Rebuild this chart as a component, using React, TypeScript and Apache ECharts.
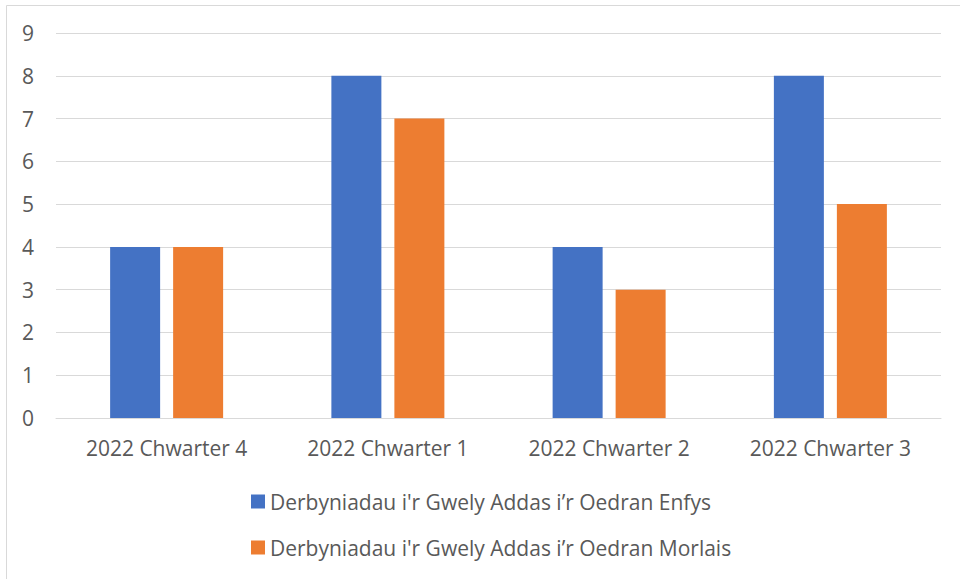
import React, { useEffect, useRef } from "react";
import * as echarts from "echarts";

const categories = ["2022 Chwarter 4", "2022 Chwarter 1", "2022 Chwarter 2", "2022 Chwarter 3"];
const seriesNames = [
  "Derbyniadau i'r Gwely Addas i\u2019r Oedran Enfys",
  "Derbyniadau i'r Gwely Addas i\u2019r Oedran Morlais",
];
const enfysValues = [4, 8, 4, 8];
const morlaisValues = [4, 7, 3, 5];
const colors = ["#4472C4", "#ED7D31"];

const FONT = "'Open Sans', 'Noto Sans', sans-serif";
const TEXT = "#595959";

export default function App() {
  const ref = useRef<HTMLDivElement>(null);
  useEffect(() => {
    if (!ref.current) return;
    const chart = echarts.init(ref.current, undefined, { renderer: "svg" });
    chart.setOption({
      animation: false,
      backgroundColor: "#ffffff",
      textStyle: { fontFamily: FONT },
      grid: { left: 56, right: 19, top: 33, bottom: 161, containLabel: false },
      xAxis: {
        type: "category",
        data: categories,
        axisLine: { show: true, lineStyle: { color: "#d9d9d9", width: 1 } },
        axisTick: { show: false },
        axisLabel: { color: TEXT, fontSize: 21, fontFamily: FONT, margin: 19 },
      },
      yAxis: {
        type: "value",
        min: 0,
        max: 9,
        interval: 1,
        axisLine: { show: false },
        axisTick: { show: false },
        splitLine: { lineStyle: { color: "#d9d9d9", width: 1 } },
        axisLabel: { color: TEXT, fontSize: 21, fontFamily: FONT, margin: 22 },
      },
      legend: {
        orient: "vertical",
        left: 251,
        top: 491,
        padding: 0,
        itemWidth: 14,
        itemHeight: 14,
        itemGap: 25,
        itemTextGap: 6,
        icon: "rect",
        textStyle: { color: TEXT, fontSize: 21, fontFamily: FONT, lineHeight: 21 },
        data: seriesNames,
      },
      graphic: [
        {
          type: "rect",
          shape: { x: 6.5, y: 5.5, width: 1000, height: 1000 },
          style: { fill: "none", stroke: "#d9d9d9", lineWidth: 1 },
          silent: true,
        },
      ],
      series: [
        {
          name: seriesNames[0],
          type: "bar",
          data: enfysValues,
          barWidth: 50,
          barGap: "26%",
          itemStyle: { color: colors[0] },
        },
        {
          name: seriesNames[1],
          type: "bar",
          data: morlaisValues,
          barWidth: 50,
          barGap: "26%",
          itemStyle: { color: colors[1] },
        },
      ],
    });
    return () => chart.dispose();
  }, []);
  return (
    <div
      ref={ref}
      style={{ position: "fixed", left: 0, top: 0, width: 960, height: 579 }}
    />
  );
}
